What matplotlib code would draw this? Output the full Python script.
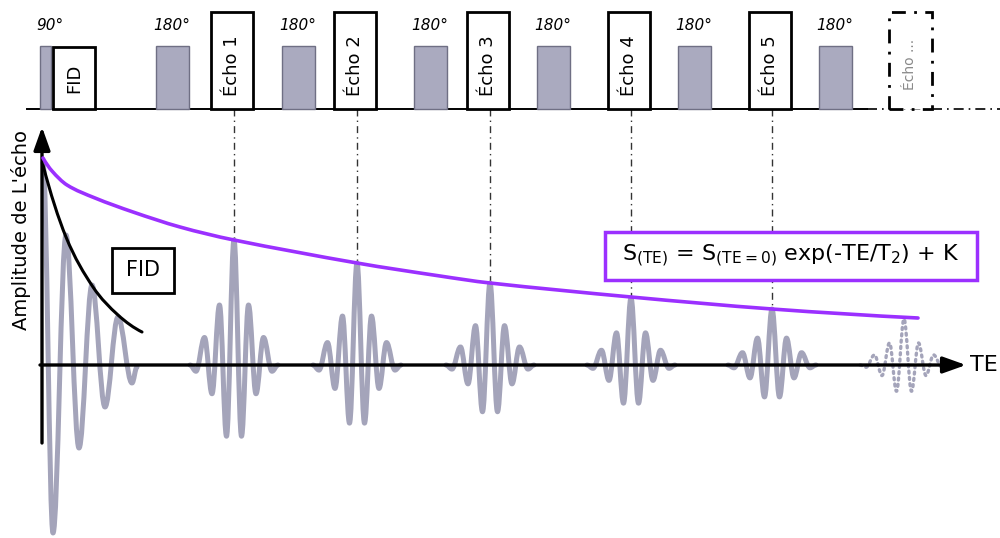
import matplotlib
matplotlib.use('Agg')
import matplotlib.pyplot as plt
from matplotlib.path import Path
from matplotlib.patches import PathPatch, Rectangle

plt.rcParams['font.family'] = ['DejaVu Sans']
plt.rcParams['mathtext.default'] = 'regular'

# ---------------- data (time axis in arbitrary units, amplitude in arbitrary units) ----
fid_t = [43, 53, 66, 79, 92, 105, 118, 132, 137]
fid_amp = [202, -168, 130, -83, 80, -42, 48, -18, -2]

fid_env_t = [43, 66, 93, 118, 142]
fid_env_amp = [200, 128, 78, 50, 33]

echo_labels = ['Écho 1', 'Écho 2', 'Écho 3', 'Écho 4', 'Écho 5']
echo_times = [234, 357, 490, 631, 772]
echo_peaks = [125, 102, 82, 67, 56]
extra_echo_label = 'Écho ...'
extra_echo_time = 904
extra_echo_peak = 46

echo_shape_offsets = [-44, -38, -29.5, -22, -14.5, -7.5, 0, 7.5, 14.5, 22, 29.5, 38, 44]
echo_shape_ratios = [0, -0.05, 0.22, -0.23, 0.48, -0.57, 1.0, -0.57, 0.48, -0.23, 0.22, -0.05, 0]

fit_t = [43, 52, 67, 95, 133, 180, 234, 357, 440, 490, 631, 772, 918]
fit_amp = [207, 194, 180, 167, 153, 138, 125, 102, 89, 82, 68, 56, 47]

pulse90_time = 45.5
pulse90_label = '90°'
pulse180_times = [172, 298, 430, 553, 694, 835]
pulse180_label = '180°'

formula = r'S$_{(TE)}$ = S$_{(TE=0)}$ exp(-TE/T$_{2}$) + K'

# ---------------- styles / layout ----------------
GRAY = '#a4a4ba'
PULSE_FC = '#aaaabf'
PULSE_EC = '#6f6f84'
PURPLE = '#9b30ff'
SEQ_BASE = 256
PULSE_H = 63
BOX_TOP = 353
LABEL_Y = 340

fig = plt.figure(figsize=(10, 5.38), dpi=100)
ax = fig.add_axes([0, 0, 1, 1])
ax.set_xlim(0, 1000)
ax.set_ylim(-173, 365)
ax.axis('off')


def extrema_path(ts, amps, k=0.364):
    verts = [(ts[0], amps[0])]
    codes = [Path.MOVETO]
    for i in range(len(ts) - 1):
        dt = ts[i + 1] - ts[i]
        verts += [(ts[i] + k * dt, amps[i]), (ts[i + 1] - k * dt, amps[i + 1]),
                  (ts[i + 1], amps[i + 1])]
        codes += [Path.CURVE4] * 3
    return Path(verts, codes)


def smooth_path(xs, ys):
    n = len(xs)
    m = [0.0] * n
    for i in range(1, n - 1):
        m[i] = (ys[i + 1] - ys[i - 1]) / (xs[i + 1] - xs[i - 1])
    c0 = (ys[1] - ys[0]) / (xs[1] - xs[0])
    cn = (ys[-1] - ys[-2]) / (xs[-1] - xs[-2])
    m[0] = 2 * c0 - m[1] if n > 2 else c0
    m[-1] = 2 * cn - m[-2] if n > 2 else cn
    verts = [(xs[0], ys[0])]
    codes = [Path.MOVETO]
    for i in range(n - 1):
        dx = xs[i + 1] - xs[i]
        verts += [(xs[i] + dx / 3, ys[i] + m[i] * dx / 3),
                  (xs[i + 1] - dx / 3, ys[i + 1] - m[i + 1] * dx / 3),
                  (xs[i + 1], ys[i + 1])]
        codes += [Path.CURVE4] * 3
    return Path(verts, codes)


def add_path(path, color, lw, z, ls='-'):
    p = PathPatch(path, fill=False, ec=color, lw=lw, zorder=z, linestyle=ls)
    p.set_capstyle('round')
    p.set_joinstyle('round')
    ax.add_patch(p)
    return p


# ---------------- pulse sequence (top) ----------------
ax.plot([27, 867], [SEQ_BASE, SEQ_BASE], color='black', lw=1.4, zorder=2)
ax.plot([867, 1000], [SEQ_BASE, SEQ_BASE], color='black', lw=1.2,
        dashes=(6, 3, 1, 3), zorder=2)

ax.add_patch(Rectangle((pulse90_time - 5.5, SEQ_BASE), 11, PULSE_H,
                       fc=PULSE_FC, ec=PULSE_EC, lw=1, zorder=3))
ax.text(pulse90_time + 4, LABEL_Y, pulse90_label, ha='center', va='center',
        fontsize=11, style='italic', zorder=6)
for t in pulse180_times:
    ax.add_patch(Rectangle((t - 16.5, SEQ_BASE), 33, PULSE_H,
                           fc=PULSE_FC, ec=PULSE_EC, lw=1, zorder=3))
    ax.text(t, LABEL_Y, pulse180_label, ha='center', va='center',
            fontsize=11, style='italic', zorder=6)

# FID box in sequence
ax.add_patch(Rectangle((53, SEQ_BASE), 42, PULSE_H - 1, fc='white', ec='black',
                       lw=2, zorder=4))
ax.text(74, SEQ_BASE + 31, 'FID', rotation=90, ha='center', va='center',
        fontsize=13, zorder=6)

# Echo boxes
for t, lab in zip(echo_times, echo_labels):
    ax.add_patch(Rectangle((t - 23, SEQ_BASE), 42, BOX_TOP - SEQ_BASE,
                           fc='white', ec='black', lw=2, zorder=4))
    ax.text(t - 2, SEQ_BASE + 43, lab, rotation=90, ha='center', va='center',
            fontsize=13, zorder=6)

ax.add_patch(Rectangle((889, SEQ_BASE), 43, BOX_TOP - SEQ_BASE, fc='white',
                       ec='black', lw=2, linestyle=(0, (5, 3, 1, 3)), zorder=4))
ax.text(910.5, SEQ_BASE + 45, extra_echo_label, rotation=90, ha='center',
        va='center', fontsize=10, color='#8a8a8a', zorder=6)

# vertical guides from echo boxes down to echo peaks
for t, pk in zip(echo_times, echo_peaks):
    ax.plot([t, t], [SEQ_BASE, pk], color='#333333', lw=1,
            dashes=(5, 3, 1, 3), zorder=1)

# ---------------- signal ----------------
add_path(extrema_path(fid_t, fid_amp), GRAY, 3.6, 2)
for t, pk in zip(echo_times, echo_peaks):
    ts = [t + o for o in echo_shape_offsets]
    amps = [pk * r for r in echo_shape_ratios]
    add_path(extrema_path(ts, amps), GRAY, 3.6, 2)

ts = [extra_echo_time + o for o in echo_shape_offsets]
amps = [extra_echo_peak * r for r in echo_shape_ratios]
add_path(extrema_path(ts, amps), GRAY, 2.4, 2, ls=(0, (0.6, 1.3)))

# axes arrows
ax.annotate('', xy=(966, 0), xytext=(40, 0),
            arrowprops=dict(arrowstyle='-|>,head_length=0.7,head_width=0.25',
                            lw=2.4, color='black', shrinkA=0, shrinkB=0,
                            mutation_scale=20), zorder=3)
ax.annotate('', xy=(42, 238), xytext=(42, -78),
            arrowprops=dict(arrowstyle='-|>,head_length=0.7,head_width=0.25',
                            lw=2.4, color='black', shrinkA=0, shrinkB=0,
                            mutation_scale=20), zorder=3)
ax.text(970, 0, 'TE', ha='left', va='center', fontsize=16, zorder=6)
ax.text(21, 135, "Amplitude de L'écho", rotation=90, ha='center', va='center',
        fontsize=14, zorder=6)

# FID envelope
add_path(smooth_path(fid_env_t, fid_env_amp), 'black', 2.2, 4)
ax.add_patch(Rectangle((112, 72), 62, 45, fc='white', ec='black', lw=2, zorder=5))
ax.text(143, 94.5, 'FID', ha='center', va='center', fontsize=15, zorder=6)

# T2 decay fit
add_path(smooth_path(fit_t, fit_amp), PURPLE, 2.6, 4)
ax.add_patch(Rectangle((605, 85), 372, 48, fc='white', ec=PURPLE, lw=2.5, zorder=5))
ax.text(791, 109, formula, ha='center', va='center', fontsize=16, zorder=6)

fig.savefig('out.png', dpi=100)
